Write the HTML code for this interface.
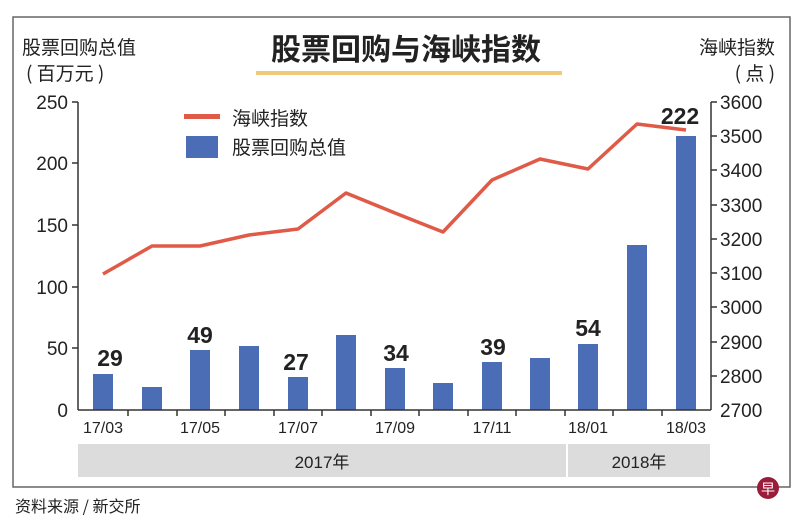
<!DOCTYPE html>
<html><head><meta charset="utf-8"><style>
body{margin:0;background:#fff;}
svg{display:block;font-family:"Liberation Sans","Noto Sans CJK SC",sans-serif;}
</style></head><body>
<svg width="800" height="527" viewBox="0 0 800 527">
<rect x="13" y="17" width="777" height="470" fill="#fff" stroke="#666" stroke-width="1.5"/>
<g font-family="'Noto Sans CJK SC',sans-serif" fill="#222">
<text x="22" y="54" font-size="19">股票回购总值</text>
<text x="26" y="80" font-size="19">( 百万元 )</text>
<text x="775" y="54" font-size="19" text-anchor="end">海峡指数</text>
<text x="775" y="80" font-size="19" text-anchor="end">( 点 )</text>
<text x="406" y="60" font-size="30" font-weight="bold" text-anchor="middle">股票回购与海峡指数</text>
</g>
<rect x="256" y="71" width="306" height="4" fill="#f0c97a"/>
<!-- grey bands -->
<rect x="78" y="444" width="488" height="33" fill="#dcdcdc"/>
<rect x="568" y="444" width="142" height="33" fill="#dcdcdc"/>
<text x="322" y="468" font-size="17" text-anchor="middle" fill="#222">2017年</text>
<text x="639" y="468" font-size="17" text-anchor="middle" fill="#222">2018年</text>
<!-- bars -->
<g fill="#4a6db5">
<rect x="93" y="374" width="20" height="36"/>
<rect x="142" y="387" width="20" height="23"/>
<rect x="190" y="350" width="20" height="60"/>
<rect x="239" y="346" width="20" height="64"/>
<rect x="288" y="377" width="20" height="33"/>
<rect x="336" y="335" width="20" height="75"/>
<rect x="385" y="368" width="20" height="42"/>
<rect x="433" y="383" width="20" height="27"/>
<rect x="482" y="362" width="20" height="48"/>
<rect x="530" y="358" width="20" height="52"/>
<rect x="578" y="344" width="20" height="66"/>
<rect x="627" y="245" width="20" height="165"/>
<rect x="676" y="136" width="20" height="274"/>
</g>
<!-- line -->
<polyline fill="none" stroke="#e05a48" stroke-width="3.5" stroke-linejoin="round" points="103,274 152,246 200,246 249,235 298,229 346,193 395,213 443,232 492,180 540,159 588,169 637,124 686,130"/>
<!-- axes -->
<g stroke="#333" stroke-width="1.5">
<line x1="78" y1="102" x2="78" y2="410"/>
<line x1="78" y1="410" x2="711" y2="410"/>
<line x1="711" y1="102" x2="711" y2="410"/>
<line x1="72" y1="102" x2="78" y2="102"/><line x1="72" y1="163" x2="78" y2="163"/><line x1="72" y1="225" x2="78" y2="225"/><line x1="72" y1="287" x2="78" y2="287"/><line x1="72" y1="348" x2="78" y2="348"/>
<line x1="711" y1="102" x2="717" y2="102"/><line x1="711" y1="136" x2="717" y2="136"/><line x1="711" y1="170" x2="717" y2="170"/><line x1="711" y1="205" x2="717" y2="205"/><line x1="711" y1="239" x2="717" y2="239"/><line x1="711" y1="273" x2="717" y2="273"/><line x1="711" y1="307" x2="717" y2="307"/><line x1="711" y1="342" x2="717" y2="342"/><line x1="711" y1="376" x2="717" y2="376"/>
<line x1="128" y1="410" x2="128" y2="416"/><line x1="177" y1="410" x2="177" y2="416"/><line x1="225" y1="410" x2="225" y2="416"/><line x1="274" y1="410" x2="274" y2="416"/><line x1="322" y1="410" x2="322" y2="416"/><line x1="371" y1="410" x2="371" y2="416"/><line x1="419" y1="410" x2="419" y2="416"/><line x1="468" y1="410" x2="468" y2="416"/><line x1="516" y1="410" x2="516" y2="416"/><line x1="565" y1="410" x2="565" y2="416"/><line x1="613" y1="410" x2="613" y2="416"/><line x1="662" y1="410" x2="662" y2="416"/>
</g>
<g font-size="19" fill="#222" text-anchor="end">
<text x="68" y="109">250</text><text x="68" y="170">200</text><text x="68" y="232">150</text><text x="68" y="294">100</text><text x="68" y="355">50</text><text x="68" y="417">0</text>
</g>
<g font-size="19" fill="#222">
<text x="720" y="109">3600</text><text x="720" y="143">3500</text><text x="720" y="177">3400</text><text x="720" y="212">3300</text><text x="720" y="246">3200</text><text x="720" y="280">3100</text><text x="720" y="314">3000</text><text x="720" y="349">2900</text><text x="720" y="383">2800</text><text x="720" y="417">2700</text>
</g>
<g font-size="16" fill="#222" text-anchor="middle">
<text x="103" y="433">17/03</text><text x="200" y="433">17/05</text><text x="298" y="433">17/07</text><text x="395" y="433">17/09</text><text x="492" y="433">17/11</text><text x="588" y="433">18/01</text><text x="686" y="433">18/03</text>
</g>
<g font-size="23" font-weight="bold" fill="#222" text-anchor="middle">
<text x="110" y="366">29</text><text x="200" y="343">49</text><text x="296" y="370">27</text><text x="396" y="361">34</text><text x="493" y="355">39</text><text x="588" y="336">54</text><text x="680" y="124">222</text>
</g>
<!-- legend -->
<rect x="184" y="114" width="36" height="5" fill="#e05a48"/>
<text x="232" y="125" font-size="19" font-family="'Noto Sans CJK SC',sans-serif" fill="#222">海峡指数</text>
<rect x="186" y="136" width="32" height="22" fill="#4a6db5"/>
<text x="232" y="154" font-size="19" font-family="'Noto Sans CJK SC',sans-serif" fill="#222">股票回购总值</text>
<text x="15" y="512" font-size="16" font-family="'Noto Sans CJK SC',sans-serif" fill="#222">资料来源 / 新交所</text>
<circle cx="768" cy="488" r="11" fill="#9b1b3a"/>
<text x="768" y="494" font-size="14" fill="#fff" text-anchor="middle" font-family="'Noto Sans CJK SC',sans-serif">早</text>
</svg>
</body></html>
